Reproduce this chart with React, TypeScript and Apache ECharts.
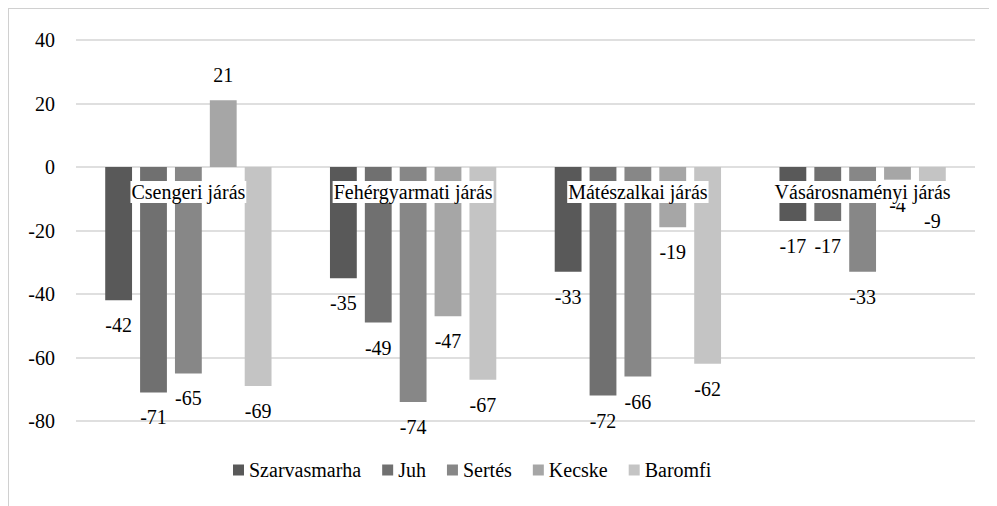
import React, { useEffect, useRef } from "react";
import * as echarts from "echarts";

const categories = ["Csengeri járás", "Fehérgyarmati járás", "Mátészalkai járás", "Vásárosnaményi járás"];
const seriesNames = ["Szarvasmarha", "Juh", "Sertés", "Kecske", "Baromfi"];
const szarvasmarha = [-42, -35, -33, -17];
const juh = [-71, -49, -72, -17];
const sertes = [-65, -74, -66, -33];
const kecske = [21, -47, -19, -4];
const baromfi = [-69, -67, -62, -9];
const seriesValues = [szarvasmarha, juh, sertes, kecske, baromfi];
const colors = ["#595959", "#707070", "#878787", "#a6a6a6", "#c4c4c4"];
const yMin = -80;
const yMax = 40;
const yStep = 20;

const FONT = "Liberation Serif";
const GRID_TOP = 31;
const GRID_BOTTOM = 85;
const CHART_H = 497;

export default function App() {
  const ref = useRef<HTMLDivElement>(null);
  useEffect(() => {
    document.documentElement.style.overflow = "hidden";
    document.body.style.overflow = "hidden";
    const chart = echarts.init(ref.current!, undefined, { renderer: "svg" });
    const plotH = CHART_H - GRID_TOP - GRID_BOTTOM;
    // distance from bottom of plot to the zero line, via the value scale
    const zeroOffset = (plotH * (0 - yMin)) / (yMax - yMin);
    chart.setOption({
      animation: false,
      textStyle: { fontFamily: FONT },
      grid: { left: 67, right: 22, top: GRID_TOP, bottom: GRID_BOTTOM, containLabel: false },
      legend: {
        data: seriesNames,
        left: 219,
        top: 446,
        icon: "rect",
        itemWidth: 11,
        itemHeight: 11,
        itemGap: 21,
        textStyle: { fontFamily: FONT, fontSize: 20, color: "#000" },
      },
      xAxis: {
        type: "category",
        data: categories,
        z: 10,
        position: "bottom",
        offset: -zeroOffset,
        axisLine: { show: false, onZero: false },
        axisTick: { show: false },
        axisLabel: {
          fontFamily: FONT,
          fontSize: 20,
          color: "#000",
          margin: 14,
          backgroundColor: "#fff",
          padding: [1, 1, 1, 1],
          interval: 0,
        },
      },
      yAxis: {
        type: "value",
        min: yMin,
        max: yMax,
        interval: yStep,
        axisLine: { show: false },
        axisTick: { show: false },
        splitLine: { lineStyle: { color: "#d4d4d4", width: 1.5 } },
        axisLabel: { fontFamily: FONT, fontSize: 20, color: "#000", margin: 21 },
      },
      series: seriesNames.map((name, i) => ({
        name,
        type: "bar",
        data: seriesValues[i],
        barGap: "30%",
        barCategoryGap: "26%",
        itemStyle: { color: colors[i] },
        label: {
          show: true,
          position: "outside",
          distance: 15,
          fontFamily: FONT,
          fontSize: 20,
          color: "#000",
        },
      })),
    });
    return () => chart.dispose();
  }, []);
  return (
    <div
      ref={ref}
      style={{
        width: 988,
        height: CHART_H,
        borderTop: "1px solid #d0d0d0",
        borderLeft: "1px solid #d0d0d0",
      }}
    />
  );
}
